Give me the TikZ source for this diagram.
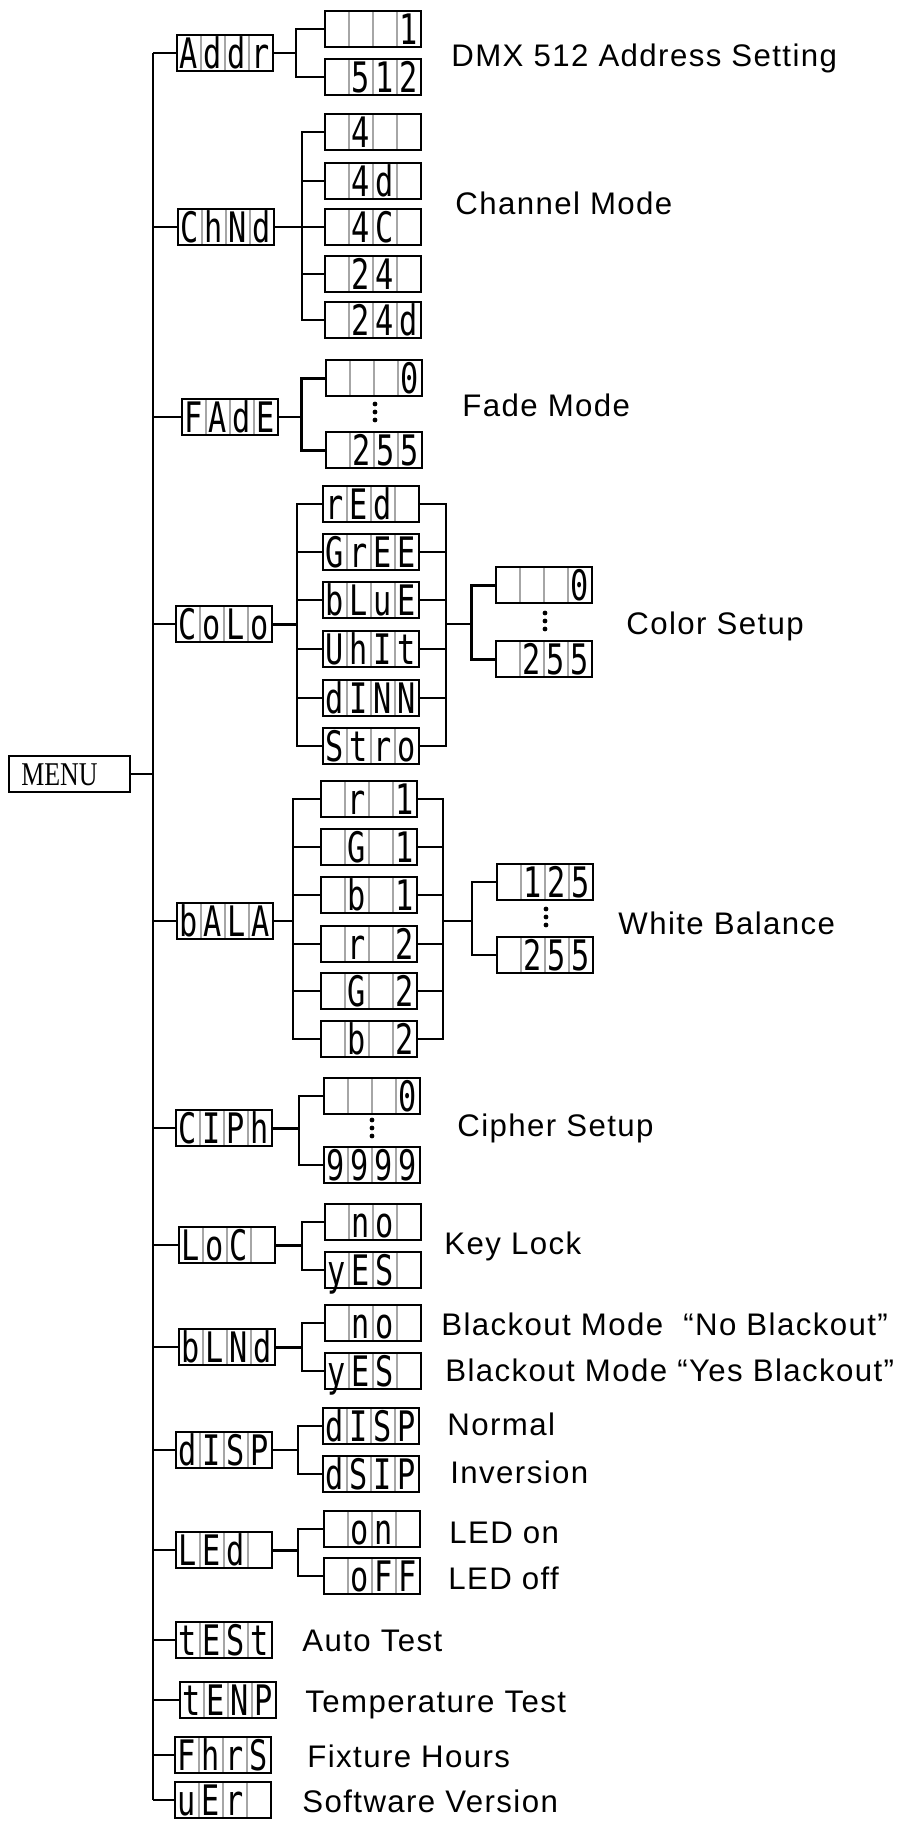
\documentclass[tikz,border=0pt]{standalone}
\usepackage{fontspec}
\usepackage{graphicx}
\setmainfont{Liberation Sans}
\newfontfamily\lblfont[LetterSpace=4.5]{Liberation Sans}
\newfontfamily\segfont{DejaVu Sans Mono}
\newfontfamily\menufont{Liberation Serif}
\usetikzlibrary{calc}

% narrow read-out glyph
\newcommand\sg[1]{\scalebox{0.72}[1]{#1}}
% four-digit read-out: name, x, y, cells
\newcommand\lcd[7]{%
  \draw[cellsep] (#2-24,#3-17) -- (#2-24,#3+17)
                 (#2,#3-17) -- (#2,#3+17)
                 (#2+24,#3-17) -- (#2+24,#3+17);
  \node[lcdbox] (#1) at (#2,#3) {};
  \node[seg] (#1-a) at (#2-36,#3) {\sg{#4}};
  \node[seg] (#1-b) at (#2-12,#3) {\sg{#5}};
  \node[seg] (#1-c) at (#2+12,#3) {\sg{#6}};
  \node[seg] (#1-d) at (#2+36,#3) {\sg{#7}};
}

\begin{document}
\begin{tikzpicture}[
  x=0.5pt, y=-0.5pt,
  lcdbox/.style={draw, line width=0.9pt, minimum width=48pt, minimum height=18pt, inner sep=0pt},
  cellsep/.style={draw=black!35, line width=0.6pt},
  seg/.style={font=\segfont\fontsize{21}{21}\selectfont, inner sep=0pt, text height=15pt, text depth=0pt},
  lbl/.style={font=\lblfont\fontsize{15.6}{18}\selectfont, anchor=base west, inner sep=0pt},
  ln/.style={line width=0.85pt},
  thn/.style={line width=0.55pt},
  thk/.style={line width=1.5pt}
]
\useasboundingbox (0,0) rectangle (901,1822);

% menu and trunk
\node[draw, line width=0.9pt, minimum width=60.5pt, minimum height=18pt, inner sep=0pt] (menu) at (69.5,774) {};
\node[anchor=base west, inner sep=0pt, font=\menufont\fontsize{16.6}{18}\selectfont] (menutxt) at (21,785) {\scalebox{0.78}[1]{MENU}};
\coordinate (top) at (153,53);
\coordinate (bot) at (153,1800);
\draw[ln] (top) -- (bot);
\draw[ln] (menu.east) -- (menu.east -| top);

% ---- address
\lcd{addr}{225}{53}{A}{d}{d}{r}
\lcd{ad1}{373}{29}{}{}{}{1}
\lcd{ad2}{373}{77}{}{5}{1}{2}
\coordinate (addrj) at (296,53);
\draw[ln] (addr.west -| top) -- (addr.west);
\draw[ln] (addr.east) -- (addrj);
\draw[ln] (ad1.west) -| (addrj) |- (ad2.west);
\node[lbl] (l-addr) at (451,66) {DMX 512 Address Setting};

% ---- channel mode
\lcd{chnd}{226}{227}{C}{h}{N}{d}
\lcd{ch1}{373}{132}{}{4}{}{}
\lcd{ch2}{373}{181}{}{4}{d}{}
\lcd{ch3}{373}{227}{}{4}{C}{}
\lcd{ch4}{373}{274}{}{2}{4}{}
\lcd{ch5}{373}{320}{}{2}{4}{d}
\coordinate (chj) at (302,227);
\draw[ln] (chnd.west -| top) -- (chnd.west);
\draw[ln] (chnd.east) -- (chj);
\draw[thn] (ch1.west) -| (chj) |- (ch5.west);
\foreach \nm in {ch2,ch3,ch4} \draw[thn] (\nm.west) -- (\nm.west -| chj);
\node[lbl] (l-chnd) at (455,214) {Channel Mode};

% ---- fade
\lcd{fade}{230}{417}{F}{A}{d}{E}
\lcd{fd1}{374}{378}{}{}{}{0}
\lcd{fd2}{374}{450}{}{2}{5}{5}
\coordinate (fdj) at (301,417);
\draw[ln] (fade.west -| top) -- (fade.west);
\draw[thn] (fade.east) -- (fdj);
\draw[thk] (fd1.west) -| (fdj) |- (fd2.west);
\foreach \d in {-8,0,8} \fill (375,412+\d) circle (1.2pt);
\node[lbl] (l-fade) at (462,416) {Fade Mode};

% ---- colour
\lcd{colo}{224}{624}{C}{o}{L}{o}
\lcd{co1}{371}{504}{r}{E}{d}{}
\lcd{co2}{371}{552}{G}{r}{E}{E}
\lcd{co3}{371}{600}{b}{L}{u}{E}
\lcd{co4}{371}{649}{U}{h}{I}{t}
\lcd{co5}{371}{698}{d}{I}{N}{N}
\lcd{co6}{371}{746}{S}{t}{r}{o}
\lcd{cv1}{544}{585}{}{}{}{0}
\lcd{cv2}{544}{659}{}{2}{5}{5}
\coordinate (coj) at (297,624);
\coordinate (cok) at (446,624);
\coordinate (col) at (471,624);
\draw[ln] (colo.west -| top) -- (colo.west);
\draw[thk] (colo.east) -- (coj);
\draw[ln] (co1.west) -| (coj) |- (co6.west);
\draw[ln] (co1.east) -| (cok) |- (co6.east);
\foreach \nm in {co2,co3,co4,co5} {
  \draw[ln] (\nm.west) -- (\nm.west -| coj);
  \draw[ln] (\nm.east) -- (\nm.east -| cok);
}
\draw[ln] (cok) -- (col);
\draw[thk] (cv1.west) -| (col) |- (cv2.west);
\foreach \d in {-8,0,8} \fill (545,621+\d) circle (1.2pt);
\node[lbl] (l-colo) at (626,634) {Color Setup};

% ---- white balance
\lcd{bala}{225}{921}{b}{A}{L}{A}
\lcd{ba1}{369}{799}{}{r}{}{1}
\lcd{ba2}{369}{847}{}{G}{}{1}
\lcd{ba3}{369}{895}{}{b}{}{1}
\lcd{ba4}{369}{944}{}{r}{}{2}
\lcd{ba5}{369}{991}{}{G}{}{2}
\lcd{ba6}{369}{1039}{}{b}{}{2}
\lcd{bv1}{545}{882}{}{1}{2}{5}
\lcd{bv2}{545}{955}{}{2}{5}{5}
\coordinate (baj) at (293,921);
\coordinate (bak) at (443,921);
\coordinate (bal) at (472,921);
\draw[ln] (bala.west -| top) -- (bala.west);
\draw[thn] (bala.east) -- (baj);
\draw[ln] (ba1.west) -| (baj) |- (ba6.west);
\draw[ln] (ba1.east) -| (bak) |- (ba6.east);
\foreach \nm in {ba2,ba3,ba4,ba5} {
  \draw[ln] (\nm.west) -- (\nm.west -| baj);
  \draw[ln] (\nm.east) -- (\nm.east -| bak);
}
\draw[ln] (bak) -- (bal);
\draw[ln] (bv1.west) -| (bal) |- (bv2.west);
\foreach \d in {-8,0,8} \fill (546,917+\d) circle (1.2pt);
\node[lbl] (l-bala) at (618,934) {White Balance};

% ---- cipher
\lcd{ciph}{224}{1128}{C}{I}{P}{h}
\lcd{ci1}{372}{1096}{}{}{}{0}
\lcd{ci2}{372}{1165}{9}{9}{9}{9}
\coordinate (cij) at (299,1128);
\draw[ln] (ciph.west -| top) -- (ciph.west);
\draw[thk] (ciph.east) -- (cij);
\draw[ln] (ci1.west) -| (cij) |- (ci2.west);
\foreach \d in {-8,0,8} \fill (372,1128+\d) circle (1.2pt);
\node[lbl] (l-ciph) at (457,1136) {Cipher Setup};

% ---- key lock
\lcd{loc}{227}{1245}{L}{o}{C}{}
\lcd{lo1}{373}{1222}{}{n}{o}{}
\lcd{lo2}{373}{1270}{y}{E}{S}{}
\coordinate (loj) at (302,1245);
\draw[ln] (loc.west -| top) -- (loc.west);
\draw[thk] (loc.east) -- (loj);
\draw[ln] (lo1.west) -| (loj) |- (lo2.west);
\node[lbl] (l-loc) at (444,1254) {Key Lock};

% ---- blackout
\lcd{blnd}{227}{1347}{b}{L}{N}{d}
\lcd{bl1}{373}{1323}{}{n}{o}{}
\lcd{bl2}{373}{1371}{y}{E}{S}{}
\coordinate (blj) at (302,1347);
\draw[ln] (blnd.west -| top) -- (blnd.west);
\draw[thk] (blnd.east) -- (blj);
\draw[ln] (bl1.west) -| (blj) |- (bl2.west);
\node[lbl] (l-bl1) at (441,1335) {Blackout Mode\ \ “No Blackout”};
\node[lbl] (l-bl2) at (445,1381) {Blackout Mode “Yes Blackout”};

% ---- display
\lcd{disp}{224}{1450}{d}{I}{S}{P}
\lcd{di1}{371}{1426}{d}{I}{S}{P}
\lcd{di2}{371}{1474}{d}{S}{I}{P}
\coordinate (dij) at (298,1450);
\draw[ln] (disp.west -| top) -- (disp.west);
\draw[thn] (disp.east) -- (dij);
\draw[ln] (di1.west) -| (dij) |- (di2.west);
\node[lbl] (l-di1) at (447,1435) {Normal};
\node[lbl] (l-di2) at (450,1483) {Inversion};

% ---- led
\lcd{led}{224}{1550}{L}{E}{d}{}
\lcd{le1}{372}{1529}{}{o}{n}{}
\lcd{le2}{372}{1576}{}{o}{F}{F}
\coordinate (lej) at (298,1550);
\draw[ln] (led.west -| top) -- (led.west);
\draw[thk] (led.east) -- (lej);
\draw[ln] (le1.west) -| (lej) |- (le2.west);
\node[lbl] (l-le1) at (449,1543) {LED on};
\node[lbl] (l-le2) at (448,1589) {LED off};

% ---- single entries
\lcd{test}{224}{1640}{t}{E}{S}{t}
\lcd{temp}{228}{1700}{t}{E}{N}{P}
\lcd{fhrs}{223}{1755}{F}{h}{r}{S}
\lcd{ver}{223}{1800}{u}{E}{r}{}
\foreach \nm in {test,temp,fhrs,ver} \draw[ln] (\nm.west -| top) -- (\nm.west);
\node[lbl] (l-test) at (302,1651) {Auto Test};
\node[lbl] (l-temp) at (305,1712) {Temperature Test};
\node[lbl] (l-fhrs) at (307,1767) {Fixture Hours};
\node[lbl] (l-ver) at (302,1812) {Software Version};
\end{tikzpicture}
\end{document}
